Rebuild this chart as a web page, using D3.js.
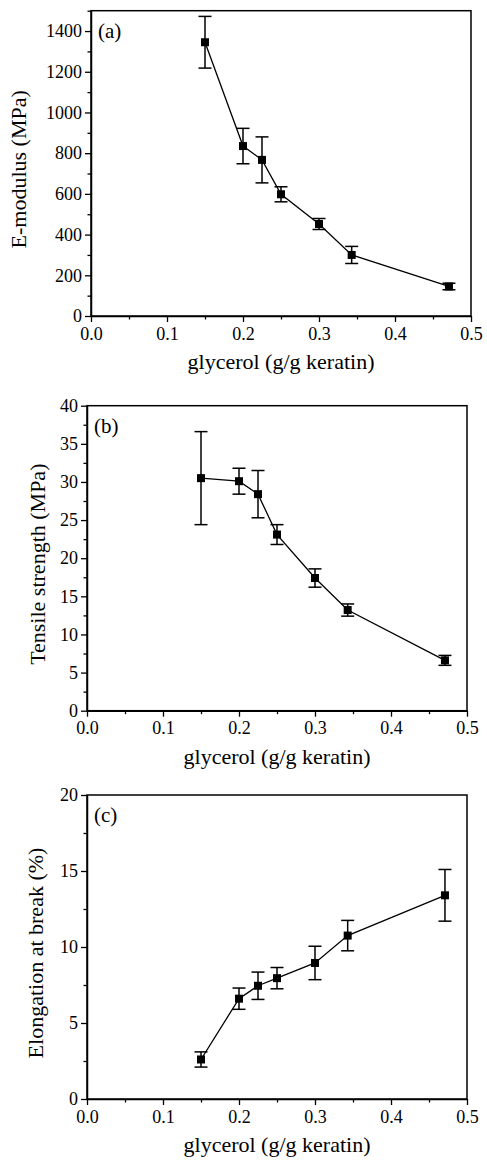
<!DOCTYPE html>
<html>
<head>
<meta charset="utf-8">
<script src="https://cdn.jsdelivr.net/npm/d3@7"></script>
<style>
    body { margin: 0; background: #fff; }
    svg text { font-family: "Liberation Serif", "Times New Roman", serif; fill: #000; }
    .axis path, .axis line { stroke: #000; }
</style>
</head>
<body>
<div id="chart"></div>
<script>
// glycerol content (g/g keratin)
const glycerol = [0.15, 0.2, 0.225, 0.25, 0.3, 0.343, 0.471];

// (a) E-modulus (MPa)
const eModulus    = [1345, 835, 767, 598, 452, 300, 145];
const eModulusErr = [127, 87, 113, 37, 27, 42, 16];

// (b) tensile strength (MPa)
const tensile    = [30.5, 30.1, 28.4, 23.1, 17.4, 13.2, 6.6];
const tensileErr = [6.1, 1.7, 3.1, 1.3, 1.2, 0.8, 0.65];

// (c) elongation at break (%)
const elongation    = [2.6, 6.6, 7.45, 7.95, 8.95, 10.75, 13.4];
const elongationErr = [0.5, 0.7, 0.9, 0.7, 1.1, 1.0, 1.7];

// ticks
const xTicks = [0, 0.1, 0.2, 0.3, 0.4, 0.5];
const xMinorTicks = [0.05, 0.15, 0.25, 0.35, 0.45];
const yTicksA = [0, 200, 400, 600, 800, 1000, 1200, 1400];
const yMinorA = [100, 300, 500, 700, 900, 1100, 1300, 1500];
const yTicksB = [0, 5, 10, 15, 20, 25, 30, 35, 40];
const yMinorB = [2.5, 7.5, 12.5, 17.5, 22.5, 27.5, 32.5, 37.5];
const yTicksC = [0, 5, 10, 15, 20];
const yMinorC = [2.5, 7.5, 12.5, 17.5];

const panels = [
    {label: "(a)", yTitle: "E-modulus (MPa)", values: eModulus, errors: eModulusErr,
     yMax: 1500, yTicks: yTicksA, yMinor: yMinorA,
     left: 91, right: 471, top: 10.7, bottom: 316, yTitleX: 26},
    {label: "(b)", yTitle: "Tensile strength (MPa)", values: tensile, errors: tensileErr,
     yMax: 40, yTicks: yTicksB, yMinor: yMinorB,
     left: 87, right: 467, top: 405.7, bottom: 710.7, yTitleX: 45},
    {label: "(c)", yTitle: "Elongation at break (%)", values: elongation, errors: elongationErr,
     yMax: 20, yTicks: yTicksC, yMinor: yMinorC,
     left: 87, right: 467, top: 795, bottom: 1099, yTitleX: 43}
];

const svg = d3.select("#chart").append("svg")
    .attr("width", 487)
    .attr("height", 1163);

panels.forEach(p => {
    let x = d3.scaleLinear().domain([0, 0.5]).range([p.left, p.right]);
    let y = d3.scaleLinear().domain([0, p.yMax]).range([p.bottom, p.top]);

    let g = svg.append("g");

    // frame
    g.append("rect")
        .attr("x", p.left)
        .attr("y", p.top)
        .attr("width", p.right - p.left)
        .attr("height", p.bottom - p.top)
        .attr("fill", "none")
        .attr("stroke", "#000")
        .attr("stroke-width", 1.5);

    // x axis
    g.append("g")
        .attr("class", "axis")
        .attr("transform", "translate(0," + p.bottom + ")")
        .call(d3.axisBottom(x).tickValues(xTicks).tickFormat(d3.format(".1f"))
            .tickSize(6).tickPadding(5).tickSizeOuter(0))
        .call(a => a.select(".domain").attr("stroke-width", 1.5))
        .call(a => a.selectAll(".tick line").attr("stroke-width", 1.3))
        .call(a => a.selectAll("text").attr("font-size", 18));

    g.append("g")
        .attr("class", "axis")
        .attr("transform", "translate(0," + p.bottom + ")")
        .call(d3.axisBottom(x).tickValues(xMinorTicks).tickFormat("").tickSize(3.5).tickSizeOuter(0))
        .call(a => a.select(".domain").remove())
        .call(a => a.selectAll(".tick line").attr("stroke-width", 1.3));

    // y axis
    g.append("g")
        .attr("class", "axis")
        .attr("transform", "translate(" + p.left + ",0)")
        .call(d3.axisLeft(y).tickValues(p.yTicks).tickFormat(d3.format("d"))
            .tickSize(6).tickPadding(3).tickSizeOuter(0))
        .call(a => a.select(".domain").attr("stroke-width", 1.5))
        .call(a => a.selectAll(".tick line").attr("stroke-width", 1.3))
        .call(a => a.selectAll("text").attr("font-size", 18));

    g.append("g")
        .attr("class", "axis")
        .attr("transform", "translate(" + p.left + ",0)")
        .call(d3.axisLeft(y).tickValues(p.yMinor).tickFormat("").tickSize(3.5).tickSizeOuter(0))
        .call(a => a.select(".domain").remove())
        .call(a => a.selectAll(".tick line").attr("stroke-width", 1.3));

    // axis titles
    g.append("text")
        .attr("x", (p.left + p.right) / 2)
        .attr("y", p.bottom + 53)
        .attr("text-anchor", "middle")
        .attr("font-size", 22)
        .text("glycerol (g/g keratin)");

    g.append("text")
        .attr("transform", "translate(" + p.yTitleX + "," + ((p.top + p.bottom) / 2 + 6) + ") rotate(-90)")
        .attr("text-anchor", "middle")
        .attr("font-size", 22)
        .text(p.yTitle);

    // panel label
    g.append("text")
        .attr("x", p.left + 7)
        .attr("y", p.top + 27)
        .attr("font-size", 21)
        .text(p.label);

    let pts = glycerol.map((gv, i) => ({x: gv, y: p.values[i], e: p.errors[i]}));

    // connecting line
    g.append("path")
        .datum(pts)
        .attr("fill", "none")
        .attr("stroke", "#000")
        .attr("stroke-width", 1.3)
        .attr("d", d3.line().x(d => x(d.x)).y(d => y(d.y)));

    // error bars
    let eb = g.selectAll(".err")
        .data(pts)
        .enter()
        .append("g")
        .attr("class", "err")
        .attr("stroke", "#000")
        .attr("stroke-width", 1.5);

    eb.append("line")
        .attr("x1", d => x(d.x)).attr("x2", d => x(d.x))
        .attr("y1", d => y(d.y - d.e)).attr("y2", d => y(d.y + d.e));
    eb.append("line")
        .attr("x1", d => x(d.x) - 6.5).attr("x2", d => x(d.x) + 6.5)
        .attr("y1", d => y(d.y + d.e)).attr("y2", d => y(d.y + d.e));
    eb.append("line")
        .attr("x1", d => x(d.x) - 6.5).attr("x2", d => x(d.x) + 6.5)
        .attr("y1", d => y(d.y - d.e)).attr("y2", d => y(d.y - d.e));

    // markers
    g.selectAll(".marker")
        .data(pts)
        .enter()
        .append("rect")
        .attr("class", "marker")
        .attr("x", d => x(d.x) - 4)
        .attr("y", d => y(d.y) - 4)
        .attr("width", 8)
        .attr("height", 8)
        .attr("fill", "#000");
});
</script>
</body>
</html>
